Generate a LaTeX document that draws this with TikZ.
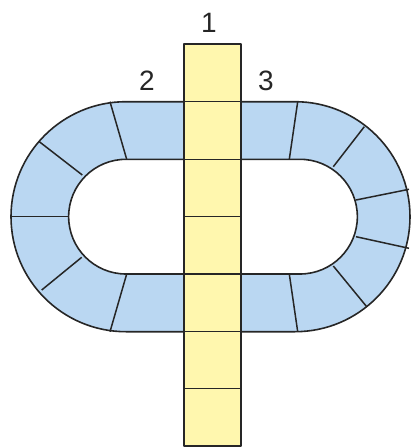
\documentclass[tikz,border=0pt]{standalone}
\usepackage{fontspec}
\setmainfont{Liberation Sans}
\definecolor{trackblue}{HTML}{BAD7F2}
\definecolor{stripyellow}{HTML}{FFF7AE}
\definecolor{edge}{HTML}{262626}
\begin{document}
\begin{tikzpicture}[x=1pt,y=-1pt,
  outline/.style={draw=edge,line width=1.6pt,line join=round},
  divider/.style={draw=edge,line width=1.5pt},
  lbl/.style={font=\fontsize{28}{28}\selectfont,text=black!85,inner sep=0pt}]
\useasboundingbox (0,0) rectangle (412,447);
% ring
\path[outline,fill=trackblue,even odd rule]
  (126,101.7) -- (295,101.7) arc[start angle=-90,end angle=90,radius=115]
  -- (126,331.7) arc[start angle=90,end angle=270,radius=115] -- cycle
  (126,159.3) -- (300,159.3) arc[start angle=-90,end angle=90,radius=57.35]
  -- (126,274) arc[start angle=90,end angle=270,radius=57.35] -- cycle;
% dividers left
\draw[divider] (126.7,159.3) -- (110,101.7);
\draw[divider] (82.3,175) -- (39.3,141.7);
\draw[divider] (68.6,216.7) -- (11,216.7);
\draw[divider] (81.7,257.3) -- (41.7,290);
\draw[divider] (126.7,274) -- (110,331.7);
% dividers right
\draw[divider] (289.3,159.3) -- (297.7,101.7);
\draw[divider] (333.3,166.7) -- (364.3,126.7);
\draw[divider] (356,200) -- (409,189.3);
\draw[divider] (356,236.7) -- (409,248.3);
\draw[divider] (333.3,266) -- (366.7,306.7);
\draw[divider] (289.3,274) -- (297.7,331.7);
% strip
\path[outline,fill=stripyellow] (184,44) rectangle (241,446);
\foreach \yy in {101.7,159.3,216.7,274,331.7,388.7}
  \draw[divider] (184,\yy) -- (241,\yy);
% labels
\node[lbl] (l1) at (209,23) {1};
\node[lbl] (l2) at (147,81) {2};
\node[lbl] (l3) at (266,81) {3};
\end{tikzpicture}
\end{document}
